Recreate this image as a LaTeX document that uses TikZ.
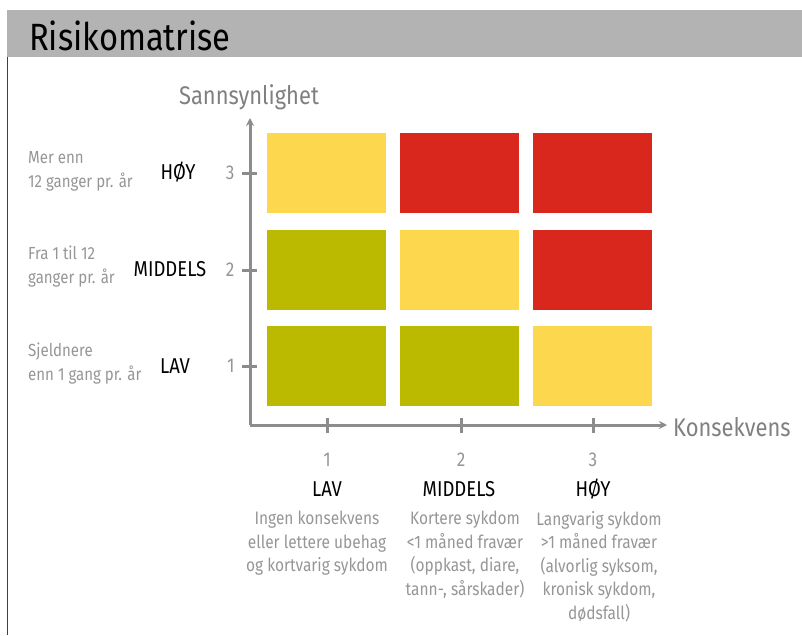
\documentclass[tikz,border=0pt]{standalone}
\usepackage{fontspec}
\setmainfont{Fira Sans}[FakeStretch=0.86]
\usetikzlibrary{arrows.meta, positioning}
\usepackage{xcolor}
\definecolor{riskLow}{RGB}{188, 186, 0}
\definecolor{riskMid}{RGB}{253, 216, 79}
\definecolor{riskHigh}{RGB}{218, 39, 30}
\definecolor{axisGray}{RGB}{140, 140, 140}
\definecolor{headerGray}{RGB}{179, 179, 179}
\definecolor{noteGray}{RGB}{150, 150, 150}
\tikzset{
    cell/.style={minimum width=119pt, minimum height=80pt, inner sep=0pt},
    axis/.style={draw=axisGray, line width=3pt},
    tick/.style={draw=axisGray, line width=3pt},
    axislabel/.style={text=black!50, font=\fontsize{25.5}{27}\selectfont},
    ticknum/.style={text=noteGray, font=\fontsize{20}{22}\selectfont},
    level/.style={text=black, font=\fontsize{21.5}{23}\selectfont},
    note/.style={text=noteGray, font=\fontsize{17.5}{24}\selectfont, inner sep=0pt},
    desc/.style={text=noteGray, font=\fontsize{18}{23.5}\selectfont, inner sep=0pt}
}

\begin{document}
\begin{tikzpicture}[x=1pt, y=-1pt]
    \useasboundingbox (0,0) rectangle (802,635);

    % Header bar and left frame line
    \fill[headerGray] (7,10) rectangle (802,57);
    \draw[black!75, line width=1pt] (7,57) -- (7,635);
    \node[anchor=base west, inner sep=0pt, font=\fontsize{38}{40}\selectfont] (title) at (29,50) {Risikomatrise};

    % Axes
    \coordinate (origin) at (250,425);
    \coordinate (ytop) at (250,118);
    \coordinate (xend) at (667,425);
    \draw[axis, -{Stealth[length=8pt, width=8pt]}] (origin) -- (ytop);
    \draw[axis, -{Stealth[length=8pt, width=8pt]}] (origin) -- (xend);
    \node[axislabel, anchor=base] (ylabel) at (249,104) {Sannsynlighet};
    \node[axislabel, anchor=base west, inner sep=0pt] (xlabel) at (673,436) {Konsekvens};

    % Risk cells (row 3 at the top)
    \node[cell, fill=riskMid]  (c13) at (326.5,173) {};
    \node[cell, fill=riskHigh] (c23) at (459.5,173) {};
    \node[cell, fill=riskHigh] (c33) at (592.5,173) {};
    \node[cell, fill=riskLow]  (c12) at (326.5,270) {};
    \node[cell, fill=riskMid]  (c22) at (459.5,270) {};
    \node[cell, fill=riskHigh] (c32) at (592.5,270) {};
    \node[cell, fill=riskLow]  (c11) at (326.5,366) {};
    \node[cell, fill=riskLow]  (c21) at (459.5,366) {};
    \node[cell, fill=riskMid]  (c31) at (592.5,366) {};

    % Ticks on the probability axis
    \draw[tick] (242,173) -- (257,173);
    \draw[tick] (242,270) -- (257,270);
    \draw[tick] (242,366) -- (257,366);
    \node[ticknum, anchor=east] (y3) at (238,173) {3};
    \node[ticknum, anchor=east] (y2) at (238,270) {2};
    \node[ticknum, anchor=east] (y1) at (238,366) {1};
    \node[level] (hoy) at (178,172) {HØY};
    \node[level] (middels) at (170,269) {MIDDELS};
    \node[level] (lav) at (175,366) {LAV};
    \node[note, anchor=west, align=left] (fhoy) at (28,171) {Mer enn\\12 ganger pr. år};
    \node[note, anchor=west, align=left] (fmiddels) at (28,267) {Fra 1 til 12\\ganger pr. år};
    \node[note, anchor=west, align=left] (flav) at (28,364) {Sjeldnere\\enn 1 gang pr. år};

    % Ticks on the consequence axis
    \draw[tick] (327,418) -- (327,433);
    \draw[tick] (461,418) -- (461,433);
    \draw[tick] (593,418) -- (593,433);
    \node[ticknum] (x1) at (327,460) {1};
    \node[ticknum] (x2) at (461,460) {2};
    \node[ticknum] (x3) at (593,460) {3};
    \node[level] (klav) at (327,489) {LAV};
    \node[level] (kmiddels) at (459,489) {MIDDELS};
    \node[level] (khoy) at (593,489) {HØY};
    \node[desc, anchor=north, align=center] (dlav) at (317,511) {Ingen konsekvens\\eller lettere ubehag\\og kortvarig sykdom};
    \node[desc, anchor=north, align=center] (dmiddels) at (465,511) {Kortere sykdom\\<1 måned fravær\\(oppkast, diare,\\tann-, sårskader)};
    \node[desc, anchor=north, align=center] (dhoy) at (599,511) {Langvarig sykdom\\>1 måned fravær\\(alvorlig syksom,\\kronisk sykdom,\\dødsfall)};
\end{tikzpicture}
\end{document}
